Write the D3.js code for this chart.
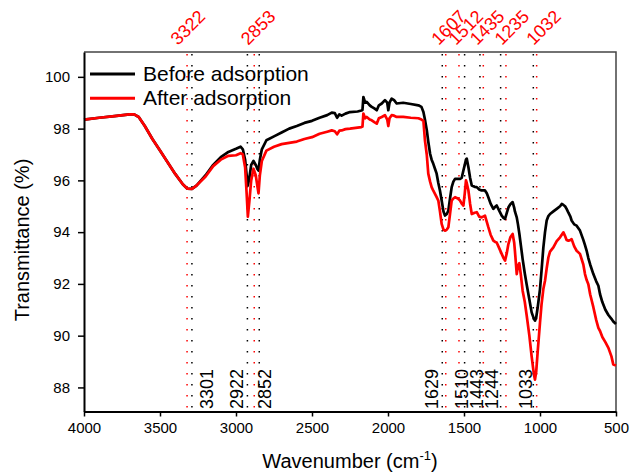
<!DOCTYPE html>
<html lang="en">
<head>
<meta charset="UTF-8">
<title>FTIR before / after adsorption</title>
<script src="https://d3js.org/d3.v7.min.js"></script>
<style>
  body { margin: 0; background: #fff; }
  text { font-family: "Liberation Sans", Arial, sans-serif; }
</style>
</head>
<body>
<svg width="630" height="476"></svg>
<script>
// wavenumber grid (cm-1) and transmittance (%)
const wavenumbers = [4000,3900,3800,3700,3670,3640,3600,3550,3500,3450,3400,3350,3320,3290,3260,3200,3150,3100,3050,3000,
  2970,2955,2940,2930,2922,2912,2900,2885,2870,2860,2852,2843,2830,2800,2750,2700,2650,2600,2550,2500,
  2450,2400,2370,2350,2335,2320,2305,2280,2250,2200,2175,2168,2162,2150,2140,2120,2107,2090,2074,2060,
  2041,2020,2005,1998,1990,1976,1960,1943,1900,1850,1800,1780,1767,1757,1745,1735,1723,1713,1702,1691,
  1680,1669,1658,1647,1635,1625,1613,1603,1592,1581,1570,1559,1540,1526,1515,1504,1495,1487,1482,1471,
  1460,1449,1430,1416,1400,1384,1362,1350,1340,1325,1307,1295,1285,1270,1252,1240,1230,1218,1208,1195,
  1180,1170,1165,1153,1145,1136,1125,1114,1100,1088,1070,1055,1040,1033,1025,1015,1000,990,978,967,
  956,945,934,912,890,868,857,846,835,825,813,800,792,775,759,737,715,704,693,682,
  670,649,630,616,605,590,570,550,530,518,500];
const before = [98.35,98.42,98.48,98.55,98.55,98.45,98.1,97.6,97.15,96.7,96.25,95.85,95.68,95.67,95.8,96.2,96.6,96.9,97.1,97.22,
  97.3,97.2,96.8,96.2,95.8,96.1,96.6,96.75,96.6,96.45,96.38,96.8,97.2,97.55,97.7,97.85,98.0,98.1,98.22,98.3,
  98.42,98.52,98.62,98.6,98.42,98.55,98.5,98.58,98.64,98.66,98.7,98.72,99.22,99.0,99.03,98.9,98.84,98.78,98.71,98.9,
  98.97,99.1,99.0,98.71,99.0,99.16,99.1,98.97,99.0,98.95,98.9,98.84,98.64,98.35,97.95,97.5,97.03,96.8,96.64,96.45,
  96.26,95.9,95.6,95.22,94.8,94.64,94.7,94.83,95.3,95.74,95.95,96.06,96.06,96.06,96.1,96.38,96.6,96.8,96.84,96.51,
  96.1,95.8,95.75,95.74,95.65,95.61,95.61,95.5,95.35,95.1,94.9,94.98,95.03,94.85,94.64,94.55,94.51,94.75,94.95,95.08,
  95.16,94.95,94.8,94.57,94.3,93.95,93.45,92.95,92.4,91.99,91.4,90.9,90.65,90.58,90.7,91.1,91.8,92.5,93.4,94.0,
  94.45,94.62,94.7,94.8,94.9,95.0,95.09,95.05,95.0,94.9,94.75,94.6,94.45,94.3,94.25,94.06,93.7,93.5,93.28,93.0,
  92.75,92.38,92.1,91.93,91.6,91.3,91.0,90.8,90.65,90.55,90.45];
const after = [98.35,98.42,98.48,98.55,98.55,98.45,98.1,97.6,97.15,96.7,96.25,95.85,95.68,95.67,95.8,96.15,96.55,96.8,96.95,96.97,
  97.05,97.0,96.5,95.5,94.6,95.2,96.0,96.45,96.2,95.8,95.5,96.2,96.75,97.15,97.3,97.4,97.45,97.5,97.6,97.67,
  97.8,97.88,97.93,97.9,97.78,97.92,97.93,97.98,98.0,98.04,98.06,98.08,98.58,98.4,98.45,98.35,98.32,98.25,98.19,98.4,
  98.45,98.52,98.35,98.1,98.4,98.52,98.5,98.45,98.45,98.42,98.4,98.35,98.3,97.55,97.0,96.26,95.95,95.74,95.6,95.48,
  95.35,95.22,94.8,94.32,94.1,94.06,94.1,94.19,94.7,95.22,95.3,95.35,95.3,95.22,95.1,95.03,95.5,96.0,95.9,95.61,
  95.1,94.7,94.75,94.77,94.6,94.57,94.64,94.4,94.19,93.9,93.67,93.62,93.6,93.4,93.16,93.0,92.9,93.2,93.54,93.8,
  93.93,93.6,93.28,92.38,92.7,92.8,92.3,91.73,91.3,90.8,90.0,89.2,88.5,88.3,88.6,89.4,90.5,91.2,91.8,92.12,
  92.6,93.02,93.25,93.41,93.65,93.8,93.9,93.99,93.85,93.7,93.67,93.7,93.73,93.45,93.28,93.16,92.75,92.38,92.15,91.99,
  91.6,91.1,90.6,90.3,90.18,89.95,89.75,89.53,89.2,88.89,88.85];

const seriesNames = ["Before adsorption", "After adsorption"];

// peak markers: red ones labelled on top, black ones labelled at the bottom
const redPeakLabels = ["3322","2853","1607","1512","1435","1235","1032"];
const redPeakAt     = [3322, 2880, 1620, 1533, 1373, 1224, 1022];
const blackPeakLabels = ["3301","2922","2852","1629","1510","1443","1244","1033"];
const blackPeakAt     = [3290, 2925, 2847, 1643, 1496, 1395, 1259, 1044];

const xTicks = [4000,3500,3000,2500,2000,1500,1000,500];
const yTicks = [88,90,92,94,96,98,100];

// layout
const svg = d3.select("svg");
const pLeft = 84, pRight = 616, pTop = 52, pBottom = 411.5;
const x = d3.scaleLinear().domain([4000, 500]).range([pLeft, pRight]);
const y = d3.scaleLinear().domain([87.07, 100.96]).range([pBottom, pTop]);
const colors = ["#000000", "#ff0000"];
const topDx = [-9, -6, -7, -3, -6, -4, -3];
const botDx = [21, -4, 12, -4, 3, 3, -3, -1];

// frame (top / right)
svg.append("path")
  .attr("d", `M${pLeft},${pTop}H${pRight}V${pBottom}`)
  .attr("fill", "none").attr("stroke", "#444").attr("stroke-width", 1.5);

// dotted peak markers
svg.append("g").selectAll("line").data(redPeakAt).join("line")
  .attr("x1", d => x(d)).attr("x2", d => x(d))
  .attr("y1", pTop + 2).attr("y2", pBottom)
  .attr("stroke", "#ff0000").attr("stroke-width", 1.5)
  .attr("stroke-dasharray", "1.5,9.5");
svg.append("g").selectAll("line").data(blackPeakAt).join("line")
  .attr("x1", d => x(d)).attr("x2", d => x(d))
  .attr("y1", pTop + 2).attr("y2", pBottom)
  .attr("stroke", "#000").attr("stroke-width", 1.5)
  .attr("stroke-dasharray", "1.5,9.5");

// curves
const line = d3.line().x(d => x(d[0])).y(d => y(d[1]));
[before, after].forEach((vals, i) => {
  svg.append("path")
    .attr("d", line(wavenumbers.map((w, k) => [w, vals[k]])))
    .attr("fill", "none")
    .attr("stroke", colors[i])
    .attr("stroke-width", 2.7)
    .attr("stroke-linejoin", "round");
});

// axes
const xAxis = svg.append("g").attr("transform", `translate(0,${pBottom})`)
  .call(d3.axisBottom(x).tickValues(xTicks).tickSize(5).tickSizeOuter(0).tickPadding(6).tickFormat(d3.format("d")));
const yAxis = svg.append("g").attr("transform", `translate(${pLeft},0)`)
  .call(d3.axisLeft(y).tickValues(yTicks).tickSize(6).tickSizeOuter(0).tickPadding(8));
[xAxis, yAxis].forEach(g => {
  g.selectAll("text").attr("font-size", 15).attr("fill", "#000")
    .attr("font-family", "'Liberation Sans', Arial, sans-serif");
  g.selectAll("line").attr("stroke", "#000").attr("stroke-width", 1.5);
  g.select(".domain").attr("stroke", "#000").attr("stroke-width", 2);
});

// peak labels
svg.append("g").selectAll("text").data(redPeakLabels).join("text")
  .attr("transform", (d, i) => `translate(${x(redPeakAt[i]) + topDx[i]},46) rotate(-45)`)
  .attr("font-size", 18).attr("fill", "#ff0000")
  .text(d => d);
svg.append("g").selectAll("text").data(blackPeakLabels).join("text")
  .attr("transform", (d, i) => `translate(${x(blackPeakAt[i]) + botDx[i]},409) rotate(-90)`)
  .attr("font-size", 18).attr("fill", "#000")
  .text(d => d);

// legend
seriesNames.forEach((name, i) => {
  const ly = 74 + i * 24.3;
  svg.append("line").attr("x1", 90).attr("x2", 135).attr("y1", ly).attr("y2", ly)
    .attr("stroke", colors[i]).attr("stroke-width", 3);
  svg.append("text").attr("x", 143).attr("y", ly + 7)
    .attr("font-size", 21).attr("fill", "#000").text(name);
});

// axis titles
svg.append("text")
  .attr("transform", "translate(29,240) rotate(-90)")
  .attr("text-anchor", "middle").attr("font-size", 20).text("Transmittance (%)");
const xt = svg.append("text").attr("x", 350).attr("y", 468)
  .attr("text-anchor", "middle").attr("font-size", 20);
xt.append("tspan").text("Wavenumber (cm");
xt.append("tspan").attr("font-size", 13).attr("dy", -8).text("-1");
xt.append("tspan").attr("dy", 8).text(")");
</script>
</body>
</html>
